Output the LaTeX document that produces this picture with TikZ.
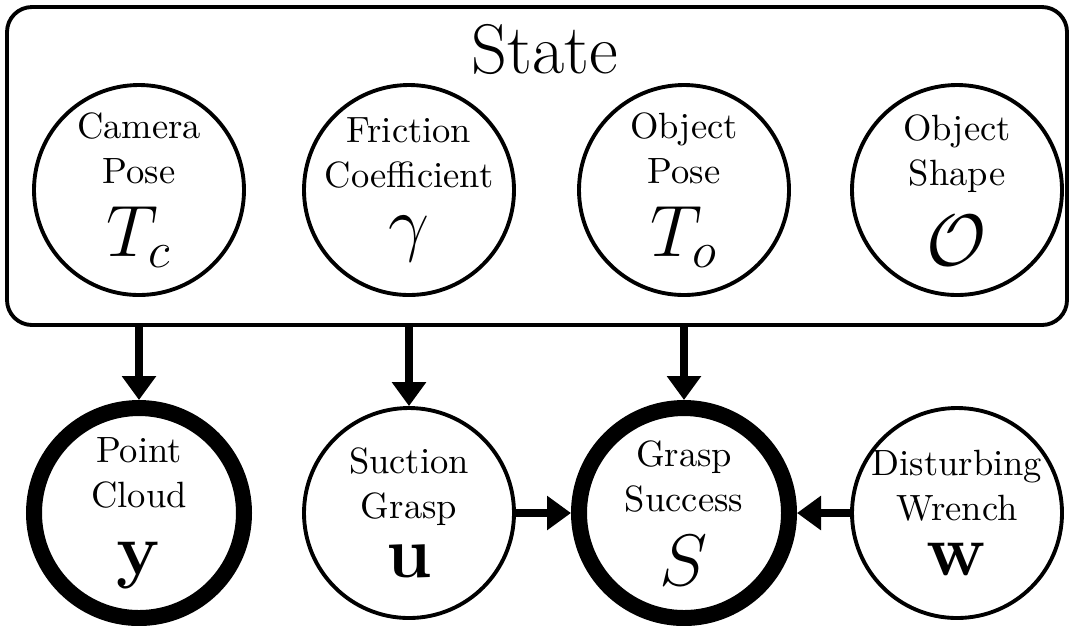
\documentclass[tikz,border=0pt]{standalone}
\usepackage[no-math]{fontspec}
\usetikzlibrary{arrows.meta,positioning}

\begin{document}
\begin{tikzpicture}[x=1cm,y=1cm]
\tikzset{
  varnode/.style={circle,draw,line width=1.1pt,minimum size=2.1cm,inner sep=-4pt,align=center,
    font={\fontsize{10.4}{12.8}\selectfont\lineskiplimit-30pt}},
  obsnode/.style={varnode,line width=0.16cm},
  statebox/.style={draw,rounded corners=0.25cm,line width=1.1pt,minimum width=10.6cm,minimum height=3.18cm},
  directed/.style={-{Triangle[length=0.24cm,width=0.33cm]},line width=0.08cm}
}
\useasboundingbox (0,0) rectangle (10.69,6.25);
\node[statebox] (state) at (5.37,4.59) {};
\node[anchor=base,font=\fontsize{20}{24}\selectfont] (state_lbl) at (5.45,5.52) {State};
% state variables
\node[varnode] (n_cam) at (1.39,4.35) {Camera\\Pose\\[8pt]{\huge$T_c$}};
\node[varnode] (n_fric) at (4.09,4.35) {Friction\\Coefficient\\[4.3pt]{\huge$\gamma$}};
\node[varnode] (n_opose) at (6.84,4.35) {Object\\Pose\\[8pt]{\huge$T_o$}};
\node[varnode] (n_oshape) at (9.57,4.35) {Object\\Shape\\[10pt]{\huge$\mathcal{O}$}};
% lower row
\node[obsnode] (n_pc) at (1.39,1.12) {Point\\Cloud\\[6.3pt]{\huge$\mathbf{y}$}};
\node[varnode] (n_sg) at (4.09,1.12) {Suction\\Grasp\\[4pt]{\huge$\mathbf{u}$}};
\node[obsnode] (n_gs) at (6.84,1.12) {Grasp\\Success\\[8.3pt]{\huge$S$}};
\node[varnode] (n_dw) at (9.57,1.12) {Disturbing\\Wrench\\[3pt]{\huge$\mathbf{w}$}};
\draw[directed] (state.south -| n_pc) -- (n_pc);
\draw[directed] (state.south -| n_sg) -- (n_sg);
\draw[directed] (state.south -| n_gs) -- (n_gs);
\draw[directed] (n_sg) -- (n_gs);
\draw[directed] (n_dw) -- (n_gs);
\end{tikzpicture}
\end{document}
